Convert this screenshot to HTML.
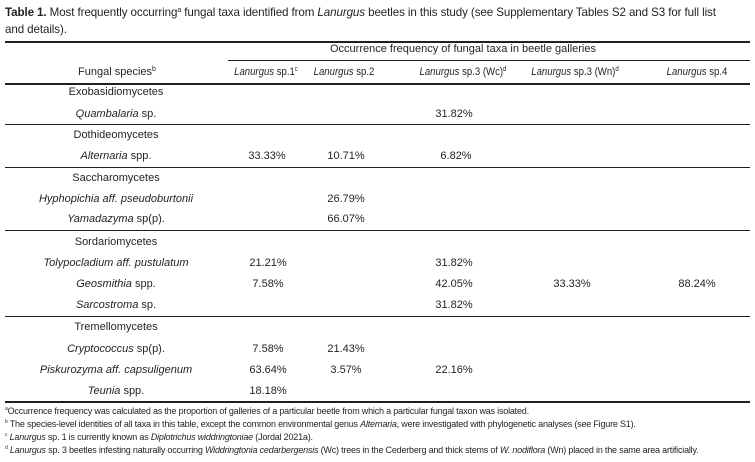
<!DOCTYPE html>
<html><head><meta charset="utf-8">
<style>
body{margin:0;background:#fff;}
#t{position:relative;width:755px;height:462px;overflow:hidden;font-family:"Liberation Sans",sans-serif;color:#231f20;font-size:11px;}
#t div{position:absolute;white-space:nowrap;}
.c{transform:translateX(-50%);}
.h{transform:translateX(-50%) scaleX(0.87);}
.r{position:absolute;background:#231f20;height:1px;}
i{font-style:italic;}
sup{font-size:7px;vertical-align:4px;line-height:0;}
.f{font-size:9px;letter-spacing:-0.2px;}
</style></head><body>
<div id="t">
<div style="left:5px;top:4px;font-size:11.6px;line-height:17px;width:725px;white-space:normal;letter-spacing:-0.1px"><b>Table 1.</b> Most frequently occurring<sup>a</sup> fungal taxa identified from <i>Lanurgus</i> beetles in this study (see Supplementary Tables S2 and S3 for full list and details).</div>

<span class="r" style="left:5px;width:745px;top:41px;height:1.5px"></span>
<div class="c" style="left:463px;top:43px">Occurrence frequency of fungal taxa in beetle galleries</div>
<span class="r" style="left:228px;width:522px;top:60px"></span>

<div class="c" style="left:117px;top:66px">Fungal species<sup>b</sup></div>
<div class="h" style="left:266px;top:66px"><i>Lanurgus</i> sp.1<sup>c</sup></div>
<div class="h" style="left:344px;top:66px"><i>Lanurgus</i> sp.2</div>
<div class="h" style="left:463px;top:66px"><i>Lanurgus</i> sp.3 (Wc)<sup>d</sup></div>
<div class="h" style="left:575px;top:66px"><i>Lanurgus</i> sp.3 (Wn)<sup>d</sup></div>
<div class="h" style="left:697px;top:66px"><i>Lanurgus</i> sp.4</div>
<span class="r" style="left:5px;width:745px;top:83px;height:1.5px"></span>

<div class="c" style="left:116px;top:86px">Exobasidiomycetes</div>
<div class="c" style="left:116px;top:108px"><i>Quambalaria</i> sp.</div>
<div class="c" style="left:454px;top:108px">31.82%</div>
<span class="r" style="left:5px;width:745px;top:124px"></span>

<div class="c" style="left:116px;top:129px">Dothideomycetes</div>
<div class="c" style="left:116px;top:150px"><i>Alternaria</i> spp.</div>
<div class="c" style="left:267px;top:150px">33.33%</div>
<div class="c" style="left:346px;top:150px">10.71%</div>
<div class="c" style="left:456px;top:150px">6.82%</div>
<span class="r" style="left:5px;width:745px;top:167px"></span>

<div class="c" style="left:116px;top:172px">Saccharomycetes</div>
<div class="c" style="left:116px;top:193px"><i>Hyphopichia aff. pseudoburtonii</i></div>
<div class="c" style="left:346px;top:193px">26.79%</div>
<div class="c" style="left:116px;top:213px"><i>Yamadazyma</i> sp(p).</div>
<div class="c" style="left:346px;top:213px">66.07%</div>
<span class="r" style="left:5px;width:745px;top:230px"></span>

<div class="c" style="left:116px;top:236px">Sordariomycetes</div>
<div class="c" style="left:116px;top:257px"><i>Tolypocladium aff. pustulatum</i></div>
<div class="c" style="left:268px;top:257px">21.21%</div>
<div class="c" style="left:454px;top:257px">31.82%</div>
<div class="c" style="left:116px;top:278px"><i>Geosmithia</i> spp.</div>
<div class="c" style="left:268px;top:278px">7.58%</div>
<div class="c" style="left:454px;top:278px">42.05%</div>
<div class="c" style="left:572px;top:278px">33.33%</div>
<div class="c" style="left:697px;top:278px">88.24%</div>
<div class="c" style="left:116px;top:299px"><i>Sarcostroma</i> sp.</div>
<div class="c" style="left:454px;top:299px">31.82%</div>
<span class="r" style="left:5px;width:745px;top:316px"></span>

<div class="c" style="left:116px;top:321px">Tremellomycetes</div>
<div class="c" style="left:116px;top:343px"><i>Cryptococcus</i> sp(p).</div>
<div class="c" style="left:268px;top:343px">7.58%</div>
<div class="c" style="left:346px;top:343px">21.43%</div>
<div class="c" style="left:116px;top:364px"><i>Piskurozyma aff. capsuligenum</i></div>
<div class="c" style="left:268px;top:364px">63.64%</div>
<div class="c" style="left:346px;top:364px">3.57%</div>
<div class="c" style="left:454px;top:364px">22.16%</div>
<div class="c" style="left:116px;top:385px"><i>Teunia</i> spp.</div>
<div class="c" style="left:268px;top:385px">18.18%</div>
<span class="r" style="left:5px;width:745px;top:401px;height:1.5px"></span>

<div class="f" style="left:5px;top:406px"><sup style="font-size:5px">a</sup>Occurrence frequency was calculated as the proportion of galleries of a particular beetle from which a particular fungal taxon was isolated.</div>
<div class="f" style="left:5px;top:419px"><sup style="font-size:5px">b</sup> The species-level identities of all taxa in this table, except the common environmental genus <i>Alternaria</i>, were investigated with phylogenetic analyses (see Figure S1).</div>
<div class="f" style="left:5px;top:432px"><sup style="font-size:5px">c</sup> <i>Lanurgus</i> sp. 1 is currently known as <i>Diplotrichus widdringtoniae</i> (Jordal 2021a).</div>
<div class="f" style="left:5px;top:445px"><sup style="font-size:5px">d</sup> <i>Lanurgus</i> sp. 3 beetles infesting naturally occurring <i>Widdringtonia cedarbergensis</i> (Wc) trees in the Cederberg and thick stems of <i>W. nodiflora</i> (Wn) placed in the same area artificially.</div>
</div>
</body></html>
